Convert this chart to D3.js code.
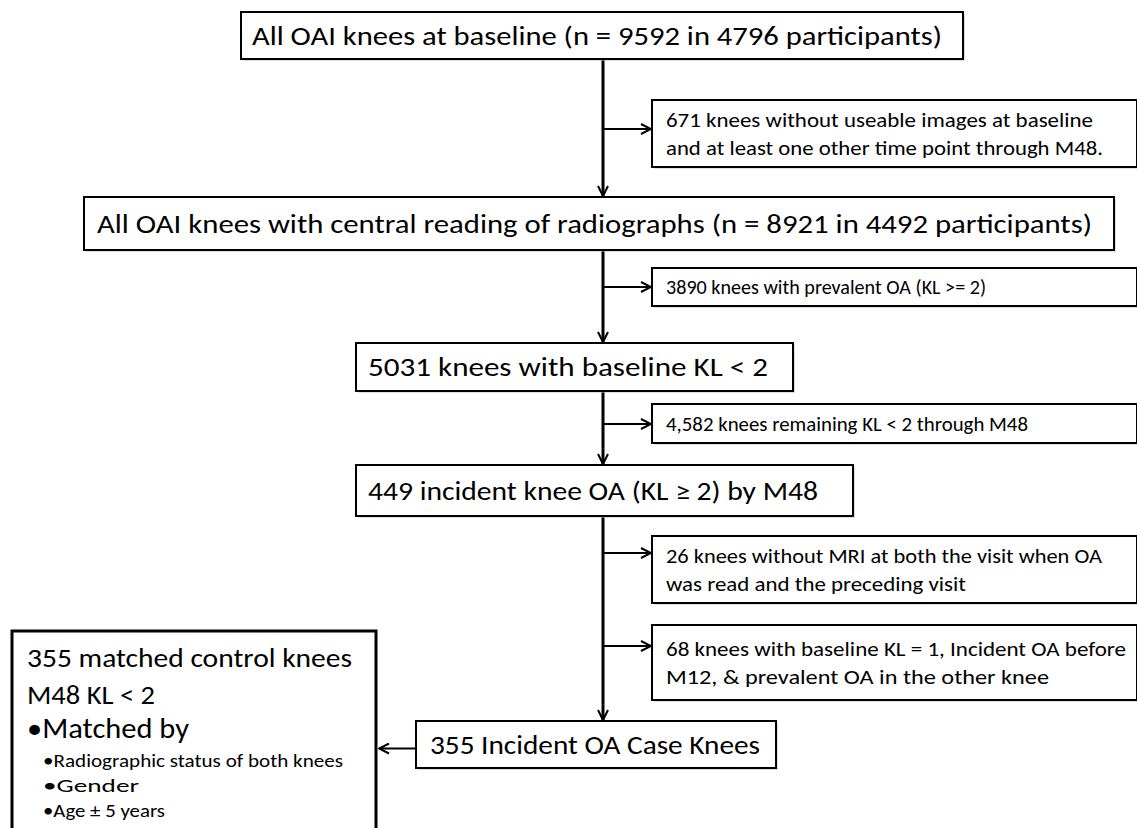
<!DOCTYPE html>
<html>
<head>
<meta charset="utf-8">
<script src="https://cdn.jsdelivr.net/npm/d3@7"></script>
<style>
  html, body { margin: 0; padding: 0; background: #fff; }
  svg { display: block; font-family: Carlito, Calibri, Lato, sans-serif; font-weight: 300; }
</style>
</head>
<body>
<svg width="1137" height="828"></svg>
<script>
// ---- content ----
const mainSteps = [
    "All OAI knees at baseline (n = 9592 in 4796 participants)",
    "All OAI knees with central reading of radiographs (n = 8921 in 4492 participants)",
    "5031 knees with baseline KL < 2",
    "449 incident knee OA (KL \u2265 2) by M48",
    "355 Incident OA Case Knees"
];

const exclusions = [
    ["671 knees without useable images at baseline", "and at least one other time point through M48."],
    ["3890 knees with prevalent OA (KL >= 2)"],
    ["4,582 knees remaining KL < 2 through M48"],
    ["26 knees without MRI at both the visit when OA", "was read  and the preceding visit"],
    ["68 knees with baseline KL = 1, Incident OA before", "M12, & prevalent OA in the other knee"]
];

const controlLines = [
    "355 matched control knees",
    "M48 KL < 2",
    "\u2022Matched by",
    "\u2022Radiographic status of both knees",
    "\u2022Gender",
    "\u2022Age \u00b1 5 years"
];

// ---- layout ----
const svg = d3.select("svg");
const spineX = 603;

// tw = rendered text width in the original figure (it is stretched sideways)
const mainBoxes = [
    { x: 241, y: 12, w: 722, h: 47, size: 26, tx: 252, tw: 690 },
    { x: 84, y: 197, w: 1030, h: 53, size: 26, tx: 97, tw: 995 },
    { x: 356, y: 343, w: 437, h: 48, size: 26, tx: 368, tw: 400 },
    { x: 356, y: 465, w: 497, h: 51, size: 26, tx: 368, tw: 450 },
    { x: 416, y: 721, w: 360, h: 47, size: 26, tx: 430, tw: 330 }
];

const sideBoxes = [
    { y: 100, h: 67, arrowY: 129, tw: [427, 437] },
    { y: 268, h: 38, arrowY: 287, tw: [320] },
    { y: 404, h: 39, arrowY: 424, tw: [362] },
    { y: 536, h: 67, arrowY: 553, tw: [436, 300] },
    { y: 625, h: 75, arrowY: 646, tw: [460, 383] }
];
const sideX = 652, sideW = 485, sideSize = 20, sideLine = 28;

const ctrl = { x: 12, y: 631, w: 364, h: 205 };
const ctrlStyle = [
    { size: 26, y: 658, tw: 325 }, { size: 26, y: 695, tw: 128 }, { size: 28, y: 728, tw: 162 },
    { size: 19, y: 760, dx: 16, tw: 300 }, { size: 19, y: 785, dx: 16, tw: 96 }, { size: 19, y: 810, dx: 16, tw: 122 }
];

// stretch a text to the width it has in the figure
function fit(sel, width) {
    sel.attr("textLength", width).attr("lengthAdjust", "spacingAndGlyphs");
}

// arrow marker (open chevron)
svg.append("defs").append("marker")
    .attr("id", "chev")
    .attr("viewBox", "0 0 12 12")
    .attr("refX", 11).attr("refY", 6)
    .attr("markerWidth", 12).attr("markerHeight", 12)
    .attr("markerUnits", "userSpaceOnUse")
    .attr("orient", "auto")
    .append("path")
    .attr("d", "M1,1 L11,6 L1,11")
    .attr("fill", "none")
    .attr("stroke", "#000")
    .attr("stroke-width", 2);

// spine arrows between main boxes
const spine = svg.append("g");
for (let i = 0; i < mainBoxes.length - 1; i++) {
    const from = mainBoxes[i], to = mainBoxes[i + 1];
    spine.append("line")
        .attr("x1", spineX).attr("y1", from.y + from.h)
        .attr("x2", spineX).attr("y2", to.y - 1)
        .attr("stroke", "#000").attr("stroke-width", 3)
        .attr("marker-end", "url(#chev)");
}

// branch arrows
svg.append("g").selectAll("line")
    .data(sideBoxes)
    .join("line")
    .attr("x1", spineX).attr("y1", d => d.arrowY)
    .attr("x2", sideX - 1).attr("y2", d => d.arrowY)
    .attr("stroke", "#000").attr("stroke-width", 2)
    .attr("marker-end", "url(#chev)");

// main boxes
const mg = svg.append("g").selectAll("g")
    .data(mainSteps)
    .join("g");
mg.append("rect")
    .attr("x", (d, i) => mainBoxes[i].x + 2).attr("y", (d, i) => mainBoxes[i].y + 2)
    .attr("width", (d, i) => mainBoxes[i].w).attr("height", (d, i) => mainBoxes[i].h)
    .attr("fill", "#bbb").attr("opacity", 0.5);
mg.append("rect")
    .attr("x", (d, i) => mainBoxes[i].x).attr("y", (d, i) => mainBoxes[i].y)
    .attr("width", (d, i) => mainBoxes[i].w).attr("height", (d, i) => mainBoxes[i].h)
    .attr("fill", "#fff").attr("stroke", "#000").attr("stroke-width", 2);
mg.append("text")
    .attr("x", (d, i) => mainBoxes[i].tx)
    .attr("y", (d, i) => mainBoxes[i].y + mainBoxes[i].h / 2)
    .attr("dy", "0.35em")
    .attr("font-size", (d, i) => mainBoxes[i].size)
    .text(d => d)
    .each(function (d, i) { fit(d3.select(this), mainBoxes[i].tw); });

// exclusion boxes
const sg = svg.append("g").selectAll("g")
    .data(exclusions)
    .join("g");
sg.append("rect")
    .attr("x", sideX + 2).attr("y", (d, i) => sideBoxes[i].y + 2)
    .attr("width", sideW).attr("height", (d, i) => sideBoxes[i].h)
    .attr("fill", "#bbb").attr("opacity", 0.5);
sg.append("rect")
    .attr("x", sideX).attr("y", (d, i) => sideBoxes[i].y)
    .attr("width", sideW).attr("height", (d, i) => sideBoxes[i].h)
    .attr("fill", "#fff").attr("stroke", "#000").attr("stroke-width", 2);
sg.each(function (lines, i) {
    const b = sideBoxes[i];
    const top = b.y + b.h / 2 - (lines.length - 1) * sideLine / 2;
    d3.select(this).selectAll("text")
        .data(lines)
        .join("text")
        .attr("x", sideX + 14)
        .attr("y", (d, j) => top + j * sideLine)
        .attr("dy", "0.35em")
        .attr("font-size", sideSize)
        .text(d => d)
        .each(function (d, j) { fit(d3.select(this), b.tw[j]); });
});

// arrow from case box to control box
const caseBox = mainBoxes[mainBoxes.length - 1];
svg.append("line")
    .attr("x1", caseBox.x).attr("y1", caseBox.y + caseBox.h / 2 + 4)
    .attr("x2", ctrl.x + ctrl.w + 3).attr("y2", caseBox.y + caseBox.h / 2 + 4)
    .attr("stroke", "#000").attr("stroke-width", 2)
    .attr("marker-end", "url(#chev)");

// control box
svg.append("rect")
    .attr("x", ctrl.x).attr("y", ctrl.y)
    .attr("width", ctrl.w).attr("height", ctrl.h)
    .attr("fill", "#fff").attr("stroke", "#000").attr("stroke-width", 3);
svg.append("g").selectAll("text")
    .data(controlLines)
    .join("text")
    .attr("x", (d, i) => ctrl.x + 15 + (ctrlStyle[i].dx || 0))
    .attr("y", (d, i) => ctrlStyle[i].y)
    .attr("dy", "0.35em")
    .attr("font-size", (d, i) => ctrlStyle[i].size)
    .text(d => d)
    .each(function (d, i) { fit(d3.select(this), ctrlStyle[i].tw); });
</script>
</body>
</html>
